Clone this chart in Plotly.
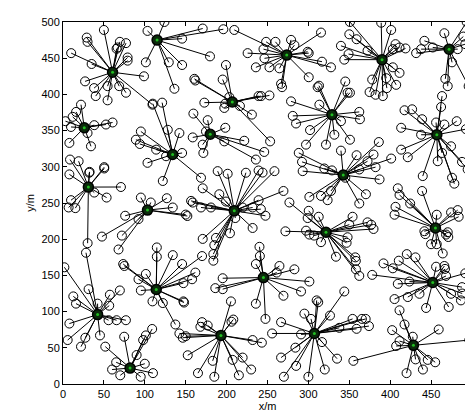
import plotly.graph_objects as go

# Cluster heads (x, y)
heads = {
    "A": (60.6, 430.6), "B": (115, 475), "C": (26, 354), "K": (31, 272),
    "M": (134, 317), "F": (180, 345), "D": (207, 389.5), "E": (273.5, 454.3),
    "G": (390, 448), "I": (472, 462.5), "H": (328.8, 372), "J": (457, 344.3),
    "O": (342.6, 288.6), "L": (103.3, 240.2), "N": (209.4, 239.2), "P": (321.5, 209.6),
    "Q": (455.3, 215.5), "T": (245, 147), "S": (114, 130.5), "W": (452, 140.2),
    "R": (42.3, 95.9), "U": (193.1, 67.1), "V": (307.3, 69.8), "X": (428.4, 53.4),
    "Y": (82, 22),
}

# Member nodes per cluster
nodes_A = [(50,489),(29,478.5),(30,472.6),(10,457),(35,442),(69.5,472.6),(77,470.8),(66.7,464.8),
           (79,451),(79,446.6),(99,425),(27,418),(38,408.7),(40,397.7),(54.5,391.8),(54.5,411.4),
           (68.7,411.4),(77,402.3),(109.4,385.8),(65.5,463)]
nodes_B = [(103.3,487.7),(101.3,444.3),(124,500),(170.8,491),(196,490),(145.6,477),(179.7,452.5),
           (129.3,444.3),(145.6,440.6),(136.2,407.8)]
nodes_C = [(22,385.8),(16,375.8),(11.8,369),(3,363),(38.2,357.5),(52.5,358.4),(60.6,361.2),(9.8,355),
           (30,346.6),(7.8,333),(34.2,328.3)]
nodes_D = [(199.2,440.6),(195.2,420.5),(161.8,419.2),(160.6,421.5),(172.8,388.6),(198.4,387.2),
           (197.2,381.3),(216.3,384),(230.9,372.1),(239.1,397.7),(203.3,396.3),(252.4,398.6),
           (242.2,397.7),(253.2,335.1)]
nodes_E = [(259.7,472.6),(278.8,475.3),(282.9,468),(315.4,485.4),(299.1,458.9),(300.4,457),
           (316.6,445.2),(327.6,437.4),(300.4,423.7),(264.6,436),(252.4,437.4),(246.3,449.8),
           (245.1,462.5),(248.3,472.6),(266.6,414.6),(267.8,410),(209.4,489),(225.7,457),(235.8,437.4)]
nodes_G = [(350.8,500),(350,483),(358.9,476.2),(339.8,467.1),(372.3,460.3),(349.1,455.7),(343.9,448),
           (389,499),(401.2,489),(406.5,469.4),(411.4,464.8),(418.7,463.5),(403.2,462.5),(403.2,437.4),
           (411.4,429.7),(407.3,413.2),(395.1,422.4),(395.9,408.7),(391,397.7),(382.1,399.5),
           (374.8,403.2),(378,420.5)]
nodes_I = [(493.5,500),(466.2,484.5),(441.8,474),(437.8,462.5),(431.7,457),(452,464.8),(489.4,479.9),
           (491.8,469.4),(482.5,462.5),(475.6,444.3),(467.4,421.5),(470.3,411.4),(495.9,411.4)]
nodes_H = [(311.3,410),(313,412),(345.1,417.8),(347.9,402.3),(350.8,402.3),(278.8,390.4),(313.4,385.8),
           (280.9,370.3),(284.9,359.8),(362.2,375.8),(363,365.7),(339.8,363),(302,350.7),(321.5,330.6),
           (331.7,344.3),(350.8,337.4),(297.1,330.6)]
nodes_J = [(463.4,397.7),(462.2,382.6),(426.8,379.4),(417.5,378.1),(439,365.7),(413.4,353.9),
           (456.1,361.2),(466.2,358.4),(481.3,363),(492.6,352),(437.8,344.3),(474.4,328.3),
           (413.4,323.7),(421.5,313.2),(463.4,319.1),(458.1,307.7),(487.8,306.8),(494.7,296.3),
           (439.8,287.2),(475.6,284.9),(478.4,276.7)]
nodes_O = [(339.8,322.3),(358.9,316),(372.3,307.7),(288.2,319.2),(292.2,306.8),(293,294),(319.5,297.7),
           (328.8,295),(301.2,258.4),(315.4,259.8),(323.5,253.9),(327.6,266.6),(362.2,249.3),
           (370.3,262.1),(345.1,284.9),(362.2,296.3),(386.1,334.2),(379.6,316.9),(382.1,299.5),
           (401.2,311.4),(387,282.6)]
nodes_L = [(95.2,257.5),(107.3,250.7),(76,232.4),(92.3,227.8),(47.6,203.6),(72,205),(152,232),
           (150,234),(126.9,256.6),(134.2,243.8),(67.9,185.8)]
nodes_K = [(8.6,310),(19.1,307.7),(32.1,291.8),(32.5,293),(50.4,297.7),(50.4,299.5),(7.8,289.5),
           (70.8,272.1),(38.2,264.4),(53.3,257.5),(9.8,253.9),(6.9,243.8),(15.1,242.9),(30.1,194.5)]
nodes_M = [(95.2,348.8),(89.1,337.4),(93.9,331.5),(103.3,305.5),(128.1,351.1),(142.3,346.6),
           (113.9,323.7),(126,314.6),(145.6,319.1),(122,280.4),(168.7,284.9),(121.2,388.6),(109.8,387.2)]
nodes_F = [(158.6,340.6),(170.8,330.6),(171.6,319.1),(197.2,335.1),(221.6,336),(235.8,310),
           (246,320.5),(174.8,348.8),(159.4,373.5),(176.9,364.4),(198.4,353.9)]
nodes_N = [(189.1,294),(201.3,290.4),(223.6,291.8),(239.1,294.9),(244,292),(170.8,270.3),(191.1,262.1),
           (199.2,252),(156.6,252.9),(158.6,250.6),(168.7,243.8),(180.9,243.8),(219.6,243.8),
           (231.8,243.8),(239.1,253.9),(241.9,241.5),(210.6,229.2),(231.8,215.5),(204.1,208.2),
           (170.8,200.4),(187,201.8),(258.5,294),(269.5,266.6),(247.5,232.4),(185,191.8),
           (183.8,179.4),(183.8,170.3)]
nodes_P = [(276.8,250.7),(300.4,239.2),(312.6,231),(299.1,229.2),(271.9,210.9),(297.1,211.8),
           (301.2,206.4),(307,205),(354,231),(350,220.1),(372.3,223.3),(347.9,202.7),(315.4,195.9),
           (376.8,220),(379.6,214.1),(333.7,175.8),(357.3,174.9),(358,170),(358.1,158.4),
           (362.2,149.3),(346.7,195)]
nodes_Q = [(439,266.6),(409.3,270.3),(411.4,261.1),(424.4,249.3),(406.5,244.7),(405.3,233.8),
           (456.9,233.8),(474.4,237),(482.5,240.2),(483.7,231),(441.8,211),(443,207),(468.3,206.4),
           (471,203),(470.3,209.6),(450,193.1),(456.9,193.1),(464.2,180.3)]
nodes_T = [(264.6,163),(282.9,158.4),(301.2,141.5),(291,127.8),(269.5,121.9),(240.2,189.5),
           (247.5,89.9),(261.3,153.9),(195.2,146.1),(186.2,132.4),(195.2,131),(235.8,110.9),
           (235.8,165.7),(240.7,176.7)]
nodes_S = [(114.7,188.6),(114.7,175.8),(134.2,178),(145.6,165.7),(170,176.7),(161.8,153.9),
           (157.8,144.7),(147.2,139.3),(147.2,114.1),(148,112.5),(122,111.8),(137.4,82.2),
           (73.6,165.7),(75,163),(101.3,152),(92.3,144.7),(95.2,129.2),(109.4,114.1)]
nodes_R = [(1.7,161.2),(31.3,131),(12.6,121),(15.9,111),(42.3,111),(57.3,123.3),(56.5,108.2),
           (69.5,129.2),(55.7,88.1),(65.5,88.1),(76.9,88.1),(7.8,83.5),(5.7,60.7),(27.3,63.9),
           (22,51.6),(45.2,67.1),(28.1,181.3)]
nodes_U = [(170,85.4),(176.9,80.8),(168,79),(142.3,69.8),(146.4,63.9),(150,66),(205.3,114.1),
           (208.2,89),(206,86),(231.8,60.7),(243.1,57.1),(219.6,36.5),(207.4,33.3),(152.5,39.7),
           (183,32),(165,15),(185,10),(215,12),(230,20)]
nodes_V = [(310.1,115.5),(312,113),(343.9,127.8),(295.1,97.2),(303.2,89.9),(326.4,94.5),(266.6,85.4),
           (255.6,69.8),(291,68.5),(354,89.9),(365.4,89.9),(370,89.9),(358.9,76.2),(337.8,77.6),
           (316.6,57.9),(284.1,50.2),(266.6,36.5),(374,80),(270,10),(285,25),(300,10),(320,20),(335,35)]
nodes_W = [(420.3,179.4),(430.9,174.9),(410.5,170.3),(391.8,166.6),(403.2,159.8),(378,150.7),
           (456.1,162),(466.2,163),(467,159),(468.3,149.3),(491.8,152.9),(423.5,141.5),(409.3,138.3),
           (405.3,117.3),(421.5,120.1),(435.8,124.6),(443.9,105),(471.5,106.4),(474.4,124.6),
           (487.8,133.8),(488,125),(486.5,115.5)]
nodes_X = [(411.4,101.8),(417.5,82.2),(402.4,74.4),(411.4,59.3),(407.3,52.5),(427.6,65.3),
           (459.3,75.3),(496.7,60.7),(445.9,33.3),(431,34),(420,15),(440,20),(455,30),(355,32)]
nodes_Y = [(109,76),(101.3,67.1),(98,60.7),(74.8,65.3),(51.7,51.6),(65,30),(70,12),(90,40),
           (95,10),(100,28),(110,15),(60,20)]

clusters = {
    "A": nodes_A, "B": nodes_B, "C": nodes_C, "D": nodes_D, "E": nodes_E, "G": nodes_G,
    "I": nodes_I, "H": nodes_H, "J": nodes_J, "O": nodes_O, "L": nodes_L, "K": nodes_K,
    "M": nodes_M, "F": nodes_F, "N": nodes_N, "P": nodes_P, "Q": nodes_Q, "T": nodes_T,
    "S": nodes_S, "R": nodes_R, "U": nodes_U, "V": nodes_V, "W": nodes_W, "X": nodes_X,
    "Y": nodes_Y,
}

lx, ly, nx, ny = [], [], [], []
for key, pts in clusters.items():
    hx, hy = heads[key]
    for (x, y) in pts:
        lx += [hx, x, None]
        ly += [hy, y, None]
        nx.append(x)
        ny.append(y)

hxs = [v[0] for v in heads.values()]
hys = [v[1] for v in heads.values()]

fig = go.Figure()
fig.add_trace(go.Scatter(x=lx, y=ly, mode="lines", line=dict(color="black", width=1),
                         hoverinfo="skip", showlegend=False))
fig.add_trace(go.Scatter(x=nx, y=ny, mode="markers",
                         marker=dict(symbol="circle-open", size=9, color="black",
                                     line=dict(width=1, color="black")),
                         showlegend=False))
fig.add_trace(go.Scatter(x=hxs, y=hys, mode="markers",
                         marker=dict(symbol="circle", size=10, color="#0b2a0b",
                                     line=dict(width=1.5, color="black")),
                         showlegend=False))
fig.add_trace(go.Scatter(x=hxs, y=hys, mode="markers",
                         marker=dict(symbol="circle", size=3, color="#22bb22"),
                         showlegend=False))

axis_common = dict(range=[0, 500], tickmode="linear", tick0=0, dtick=50,
                   ticks="inside", ticklen=4, tickcolor="black", showline=True,
                   linecolor="black", linewidth=1, mirror="ticks", showgrid=False,
                   zeroline=False, tickfont=dict(family="Liberation Sans, Arial", size=11, color="black"))
fig.update_layout(
    width=473, height=415,
    margin=dict(l=55, r=8, t=11, b=39),
    paper_bgcolor="white", plot_bgcolor="white",
    xaxis=dict(title=dict(text="x/m", standoff=2,
                          font=dict(family="Liberation Sans, Arial", size=11, color="black")),
               **axis_common),
    yaxis=dict(title=dict(text="y/m", standoff=4,
                          font=dict(family="Liberation Sans, Arial", size=11, color="black")),
               **axis_common),
)
fig.write_html("out.html")
